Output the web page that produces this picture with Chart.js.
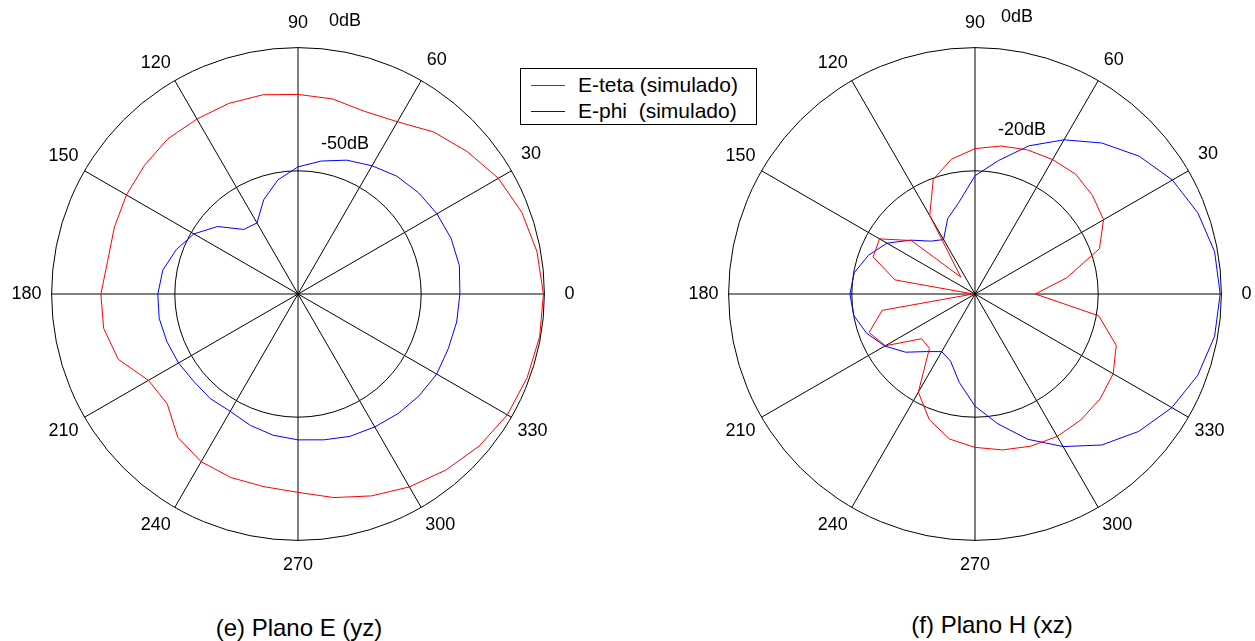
<!DOCTYPE html>
<html>
<head>
<meta charset="utf-8">
<script src="https://cdn.jsdelivr.net/npm/chart.js@4.4.0/dist/chart.umd.min.js"></script>
<style>
  html, body { margin: 0; padding: 0; background: #fff; overflow: hidden; width: 1255px; height: 641px; }
  body { position: relative; font-family: "Liberation Sans", Arial, sans-serif; color: #000; }
  canvas { position: absolute; top: 3px; }
  #plotE { left: -40px; }
  #plotH { left: 637px; }
  .title { position: absolute; font-size: 24px; white-space: nowrap; transform: translate(-50%, -50%); }
  #legend { position: absolute; left: 520px; top: 68px; width: 235px; height: 55px; border: 1px solid #000; background: #fff; z-index: 2; }
  #legend .row { position: absolute; left: 0; height: 22px; font-size: 21px; white-space: nowrap; }
  #legend .row span.ln { position: absolute; left: 10px; top: 11px; width: 34px; height: 0; border-top: 1px solid; }
  #legend .row span.tx { position: absolute; left: 57px; top: 0; line-height: 22px; }
</style>
</head>
<body>
<canvas id="plotE" width="676" height="574"></canvas>
<canvas id="plotH" width="676" height="574"></canvas>
<div id="legend"></div>
<div class="title" style="left:299px; top:628px;">(e) Plano E (yz)</div>
<div class="title" style="left:992px; top:625px;">(f) Plano H (xz)</div>
<script>
// angles in degrees, counter-clockwise from the right
const angles = [0, 10, 20, 30, 40, 50, 60, 70, 80, 90, 100, 110, 120, 130, 140, 150, 160, 170,
                180, 190, 200, 210, 220, 230, 240, 250, 260, 270, 280, 290, 300, 310, 320, 330, 340, 350];
const angleTicks = [0, 30, 60, 90, 120, 150, 180, 210, 240, 270, 300, 330];

// (e) Plano E (yz), dB
const eTetaE = [-0.4, -1.5, -3.3, -6.1, -10.2, -14.2, -19.3, -21.1, -19.6, -19.0, -17.9, -17.7,
                -18.0, -17.8, -18.7, -19.6, -20.7, -21.6, -20.0, -19.9, -22.4, -29.9, -30.7, -24.1,
                -21.4, -20.7, -20.6, -19.5, -16.1, -12.8, -9.6, -6.7, -4.0, -1.9, -1.0, -0.4];
const ePhiE = [-34.3, -33.5, -33.9, -34.9, -36.1, -37.6, -39.9, -42.2, -45.2, -48.4, -53.0, -59.3,
               -66.7, -65.8, -57.4, -51.2, -47.4, -44.3, -43.1, -42.8, -43.4, -44.0, -44.8, -44.6,
               -45.0, -43.3, -41.8, -40.8, -39.9, -38.5, -37.7, -36.7, -35.8, -35.0, -35.1, -34.6];
const dbTicksE = [0, -50];

// (f) Plano H (xz), dB
const eTetaH = [-30.2, -24.9, -18.5, -15.9, -15.1, -14.6, -14.8, -15.1, -15.6, -16.4, -17.8, -20.2,
                -25.3, -36.4, -26.5, -22.1, -22.4, -26.8, -39.7, -24.7, -21.7, -23.2, -28.7, -28.5,
                -21.6, -18.3, -16.1, -15.1, -14.3, -13.7, -13.3, -13.3, -13.5, -14.1, -15.6, -19.6];
const ePhiH = [-0.2, -0.5, -1.5, -3.0, -5.2, -8.0, -11.1, -14.4, -18.0, -20.8, -24.9, -27.0,
               -29.8, -28.8, -26.4, -23.5, -21.6, -20.1, -19.7, -20.0, -21.3, -23.1, -25.3, -27.8,
               -29.2, -28.4, -25.4, -21.8, -18.6, -14.9, -11.4, -8.0, -5.3, -3.1, -1.5, -0.5];
const dbTicksH = [0, -20];

const seriesNames = ['E-teta (simulado)', 'E-phi\u00a0 (simulado)'];
const seriesColors = ['#ff0000', '#0000ff'];
const FONT = '"Liberation Sans", Arial, sans-serif';

// radar goes clockwise, so walk the angles backwards
const order = angles.map((_, j) => (angles.length - j) % angles.length);

const dbLabels = {
  id: 'dbLabels',
  afterDraw(chart, args, opts) {
    const r = chart.scales.r;
    const ctx = chart.ctx;
    ctx.save();
    ctx.font = '18px ' + FONT;
    ctx.fillStyle = '#000';
    ctx.textAlign = 'center';
    ctx.textBaseline = 'middle';
    opts.values.forEach((v, i) => {
      const d = r.getDistanceFromCenterForValue(v);
      ctx.fillText(v + 'dB', r.xCenter + opts.dx[i], r.yCenter - d - opts.dy[i]);
    });
    ctx.restore();
  }
};

// keep the label centres about 25px outside the outer circle
function labelPadding(c) {
  const a = angles[order[c.index]];
  if (!angleTicks.includes(a)) return 0;
  const t = a * Math.PI / 180;
  const halfW = String(a).length * 5;
  const pad = 25 - (Math.abs(Math.cos(t)) * halfW + Math.abs(Math.sin(t)) * 10.8);
  return Math.max(0, Math.round(pad));
}

function polarPlot(id, teta, phi, minDb, stepDb, ticks, dx, dy) {
  new Chart(document.getElementById(id), {
    type: 'radar',
    data: {
      labels: order.map(k => angles[k]),
      datasets: [teta, phi].map((s, i) => ({
        label: seriesNames[i],
        data: order.map(k => s[k]),
        borderColor: seriesColors[i],
        backgroundColor: 'transparent',
        borderWidth: 1,
        fill: false,
        tension: 0,
        pointRadius: 0
      }))
    },
    options: {
      responsive: false,
      animation: false,
      layout: { padding: { top: 10 } },
      plugins: {
        legend: { display: false },
        tooltip: { enabled: false },
        dbLabels: { values: ticks, dx: dx, dy: dy }
      },
      scales: {
        r: {
          min: minDb,
          max: 0,
          startAngle: 90,
          ticks: { display: false, stepSize: stepDb },
          grid: { circular: true, color: '#000', lineWidth: 1 },
          angleLines: {
            color: '#000',
            lineWidth: c => angleTicks.includes(angles[order[c.index]]) ? 1 : 0
          },
          pointLabels: {
            color: '#000',
            font: { family: FONT, size: 18 },
            padding: labelPadding,
            callback: (label) => angleTicks.includes(label) ? String(label) : ''
          }
        }
      }
    },
    plugins: [dbLabels]
  });
}

polarPlot('plotE', eTetaE, ePhiE, -100, 50, dbTicksE, [47, 47], [27, 27]);
polarPlot('plotH', eTetaH, ePhiH, -40, 20, dbTicksH, [42, 47], [31, 41]);

// legend box
const legend = document.getElementById('legend');
seriesNames.forEach((name, i) => {
  const row = document.createElement('div');
  row.className = 'row';
  row.style.top = (5 + i * 26) + 'px';
  row.innerHTML = '<span class="ln" style="color:' + seriesColors[i] + '"></span><span class="tx">' + name + '</span>';
  legend.appendChild(row);
});
</script>
</body>
</html>
